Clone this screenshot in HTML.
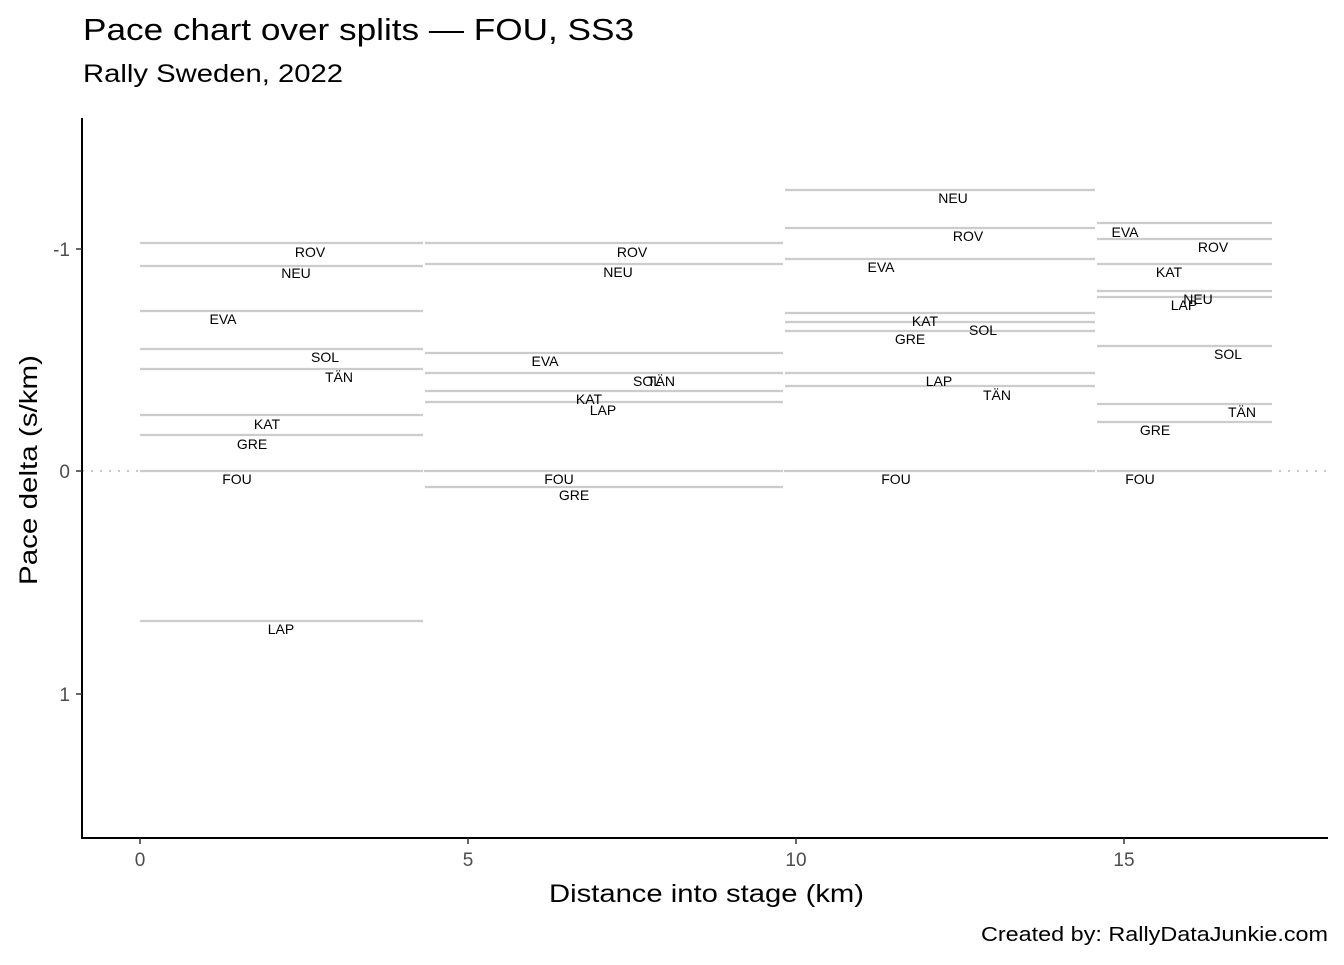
<!DOCTYPE html>
<html><head><meta charset="utf-8"><style>body{margin:0;background:#fff}</style></head><body>
<svg width="1344" height="960" xmlns="http://www.w3.org/2000/svg" font-family="Liberation Sans, Arial, sans-serif">
<rect width="1344" height="960" fill="#fff"/>
<text x="83" y="40" font-size="31" fill="#000" textLength="551" lengthAdjust="spacingAndGlyphs">Pace chart over splits — FOU, SS3</text>
<text x="83" y="82" font-size="25" fill="#000" textLength="260" lengthAdjust="spacingAndGlyphs">Rally Sweden, 2022</text>
<line x1="82" y1="471" x2="1328" y2="471" stroke="#c8c8c8" stroke-width="2" stroke-dasharray="2,7"/>
<g stroke="#cccccc" stroke-width="2.2">
<line x1="140" x2="423" y1="243" y2="243"/><line x1="140" x2="423" y1="266" y2="266"/><line x1="140" x2="423" y1="311" y2="311"/><line x1="140" x2="423" y1="349" y2="349"/><line x1="140" x2="423" y1="369" y2="369"/><line x1="140" x2="423" y1="415" y2="415"/><line x1="140" x2="423" y1="435" y2="435"/><line x1="140" x2="423" y1="471" y2="471"/><line x1="140" x2="423" y1="621" y2="621"/>
<line x1="425" x2="783" y1="243" y2="243"/><line x1="425" x2="783" y1="264" y2="264"/><line x1="425" x2="783" y1="353" y2="353"/><line x1="425" x2="783" y1="373" y2="373"/><line x1="425" x2="783" y1="391" y2="391"/><line x1="425" x2="783" y1="402" y2="402"/><line x1="425" x2="783" y1="471" y2="471"/><line x1="425" x2="783" y1="487" y2="487"/>
<line x1="785" x2="1095" y1="190" y2="190"/><line x1="785" x2="1095" y1="228" y2="228"/><line x1="785" x2="1095" y1="259" y2="259"/><line x1="785" x2="1095" y1="313" y2="313"/><line x1="785" x2="1095" y1="322" y2="322"/><line x1="785" x2="1095" y1="331" y2="331"/><line x1="785" x2="1095" y1="373" y2="373"/><line x1="785" x2="1095" y1="386" y2="386"/><line x1="785" x2="1095" y1="471" y2="471"/>
<line x1="1097" x2="1272" y1="223" y2="223"/><line x1="1097" x2="1272" y1="239" y2="239"/><line x1="1097" x2="1272" y1="264" y2="264"/><line x1="1097" x2="1272" y1="291" y2="291"/><line x1="1097" x2="1272" y1="297" y2="297"/><line x1="1097" x2="1272" y1="346" y2="346"/><line x1="1097" x2="1272" y1="404" y2="404"/><line x1="1097" x2="1272" y1="422" y2="422"/><line x1="1097" x2="1272" y1="471" y2="471"/>
</g>
<g font-size="14" text-anchor="middle" fill="#000">
<text x="310" y="257">ROV</text><text x="296" y="278">NEU</text><text x="223" y="324">EVA</text><text x="325" y="362">SOL</text><text x="339" y="382">TÄN</text><text x="267" y="429">KAT</text><text x="252" y="449">GRE</text><text x="237" y="484">FOU</text><text x="281" y="634">LAP</text>
<text x="632" y="257">ROV</text><text x="618" y="277">NEU</text><text x="545" y="366">EVA</text><text x="647" y="386">SOL</text><text x="661" y="386">TÄN</text><text x="589" y="404">KAT</text><text x="603" y="415">LAP</text><text x="559" y="484">FOU</text><text x="574" y="500">GRE</text>
<text x="953" y="203">NEU</text><text x="968" y="241">ROV</text><text x="881" y="272">EVA</text><text x="925" y="326">KAT</text><text x="983" y="335">SOL</text><text x="910" y="344">GRE</text><text x="939" y="386">LAP</text><text x="997" y="400">TÄN</text><text x="896" y="484">FOU</text>
<text x="1125" y="237">EVA</text><text x="1213" y="252">ROV</text><text x="1169" y="277">KAT</text><text x="1198" y="304">NEU</text><text x="1184" y="310">LAP</text><text x="1228" y="359">SOL</text><text x="1242" y="417">TÄN</text><text x="1155" y="435">GRE</text><text x="1140" y="484">FOU</text>
</g>
<line x1="82" y1="118" x2="82" y2="839" stroke="#000" stroke-width="2"/>
<line x1="81" y1="838" x2="1328" y2="838" stroke="#000" stroke-width="2"/>
<g stroke="#333" stroke-width="1.5">
<line x1="76" x2="82" y1="249" y2="249"/><line x1="76" x2="82" y1="471" y2="471"/><line x1="76" x2="82" y1="694" y2="694"/>
<line x1="140" x2="140" y1="838" y2="844"/><line x1="468" x2="468" y1="838" y2="844"/><line x1="796" x2="796" y1="838" y2="844"/><line x1="1124" x2="1124" y1="838" y2="844"/>
</g>
<g font-size="19" fill="#4d4d4d">
<text x="70" y="256" text-anchor="end">-1</text><text x="70" y="478" text-anchor="end">0</text><text x="70" y="701" text-anchor="end">1</text>
<text x="140" y="866" text-anchor="middle">0</text><text x="468" y="866" text-anchor="middle">5</text><text x="796" y="866" text-anchor="middle">10</text><text x="1124" y="866" text-anchor="middle">15</text>
</g>
<text x="549" y="902" font-size="25" textLength="315" lengthAdjust="spacingAndGlyphs">Distance into stage (km)</text>
<text transform="translate(37,585) rotate(-90)" font-size="25" textLength="230" lengthAdjust="spacingAndGlyphs">Pace delta (s/km)</text>
<text x="981" y="941" font-size="20" textLength="347" lengthAdjust="spacingAndGlyphs">Created by: RallyDataJunkie.com</text>
</svg>
</body></html>
